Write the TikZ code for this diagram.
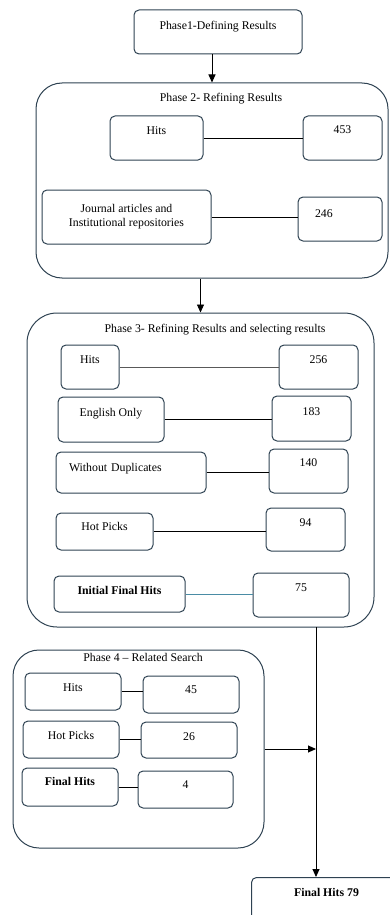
\documentclass[tikz,border=0pt]{standalone}
\usepackage{fontspec}
\setmainfont{Liberation Serif}
\usetikzlibrary{arrows.meta}
\definecolor{boxline}{RGB}{46,66,82}
\definecolor{tealline}{RGB}{74,140,165}

\begin{document}
\begin{tikzpicture}[x=1pt,y=-1pt,
    every node/.style={font=\fontsize{11.8}{14}\selectfont},
    boxbase/.style={draw=boxline, line width=1pt, rounded corners=5pt, inner sep=0pt},
    itembox/.style={boxbase, text height=8pt, text depth=#1},
    itembox/.default=3pt,
    phasebox/.style={draw=boxline, line width=1pt, rounded corners=26pt, inner sep=0pt},
    phasetitle/.style={inner sep=1pt},
    link/.style={line width=0.9pt},
    arr/.style={line width=0.9pt, -{Triangle[length=8pt,width=7pt]}}]

        \useasboundingbox (0,0) rectangle (390,915);

        % Phase 1
        \node[itembox=13pt, minimum width=168pt, minimum height=44pt] (phase1) at (218,32) {Phase1-Defining Results};

        % Phase 2 frame and its rows
        \node[phasebox, minimum width=352pt, minimum height=195pt] (phase2) at (212,180.5) {};
        \node[phasetitle] (title2) at (221,99) {Phase 2- Refining Results};
        \node[itembox=15pt, minimum width=93pt, minimum height=44pt] (hitsB) at (156.5,138) {Hits};
        \node[itembox=17pt, minimum width=79pt, minimum height=44pt] (numB) at (342.5,138) {453};
        \node[boxbase, minimum width=169pt, minimum height=54pt, align=center] (journal) at (126.5,217) {Journal articles and\\Institutional repositories};
        \node[itembox=11pt, minimum width=84pt, minimum height=44pt, text width=50pt, align=left] (numJ) at (340,219) {246};
        \draw[link] (hitsB.east) -- (hitsB.east -| numB.west);
        \draw[link] (journal.east) -- (journal.east -| numJ.west);

        % Phase 3 frame and its rows
        \node[phasebox, rounded corners=30pt, minimum width=347pt, minimum height=314pt] (phase3) at (200.5,470) {};
        \node[phasetitle] (title3) at (215,330) {Phase 3- Refining Results and selecting results};
        \node[itembox=15pt, minimum width=58pt, minimum height=44pt] (hitsC) at (90,367) {Hits};
        \node[itembox=15pt, minimum width=79pt, minimum height=44pt] (numC) at (318.5,367) {256};
        \node[itembox=14pt, minimum width=106pt, minimum height=45pt] (english) at (111,419.5) {English Only};
        \node[itembox=14pt, minimum width=79pt, minimum height=45pt] (numE) at (311.5,418.5) {183};
        \node[itembox=10pt, minimum width=150pt, minimum height=41pt, text width=124pt, align=left] (nodup) at (131,472.5) {Without Duplicates};
        \node[itembox=17pt, minimum width=79pt, minimum height=44pt] (numD) at (308.5,471) {140};
        \node[itembox=10pt, minimum width=97pt, minimum height=37pt] (hotC) at (104.5,531.5) {Hot Picks};
        \node[itembox=14pt, minimum width=79pt, minimum height=43pt] (numH) at (305.5,529.5) {94};
        \node[itembox=7pt, minimum width=131pt, minimum height=36pt, font=\fontsize{11.8}{14}\selectfont\bfseries] (initial) at (119.5,594) {Initial Final Hits};
        \node[itembox=15pt, minimum width=96pt, minimum height=44pt] (numI) at (301,595) {75};
        \draw[link, gray!70!black] (hitsC.east) -- (hitsC.east -| numC.west);
        \draw[link] (english.east) -- (english.east -| numE.west);
        \draw[link] (nodup.east) -- (nodup.east -| numD.west);
        \draw[link] (hotC.east) -- (hotC.east -| numH.west);
        \draw[link, tealline] (initial.east) -- (initial.east -| numI.west);

        % Phase 4 frame and its rows
        \node[phasebox, minimum width=251pt, minimum height=198pt] (phase4) at (138.5,749) {};
        \node[phasetitle] (title4) at (143,657) {Phase 4 -- Related Search};
        \node[itembox=8pt, minimum width=96pt, minimum height=37pt] (hitsD) at (73,691.5) {Hits};
        \node[itembox=10pt, minimum width=96pt, minimum height=37pt] (numF) at (191,694.5) {45};
        \node[itembox=8pt, minimum width=96pt, minimum height=37pt] (hotD) at (71,739.5) {Hot Picks};
        \node[itembox=7pt, minimum width=96pt, minimum height=36pt] (numG) at (189,740) {26};
        \node[itembox=11pt, minimum width=96pt, minimum height=38pt, font=\fontsize{11.8}{14}\selectfont\bfseries] (finalD) at (70,787) {Final Hits};
        \node[itembox=10pt, minimum width=95pt, minimum height=37pt] (numK) at (185.5,789.5) {4};
        \draw[link] (hitsD.east) -- (hitsD.east -| numF.west);
        \draw[link] (hotD.east) -- (hotD.east -| numG.west);
        \draw[link] (finalD.east) -- (finalD.east -| numK.west);

        % Result box, cut by the page edge
        \node[itembox=31pt, anchor=north west, minimum width=150pt, minimum height=60pt, font=\fontsize{11.8}{14}\selectfont\bfseries] (final) at (251,877) {Final Hits 79};

        % Arrows between the phases
        \draw[arr] ([xshift=-6pt]phase1.south) -- ([xshift=-6pt]phase1.south |- phase2.north);
        \draw[arr] (phase3.north |- phase2.south) -- (phase3.north);
        \coordinate (drop) at (316,627);
        \draw[arr] (drop) -- (drop |- final.north);
        \draw[arr] (phase4.east) -- (phase4.east -| drop);

\end{tikzpicture}
\end{document}
